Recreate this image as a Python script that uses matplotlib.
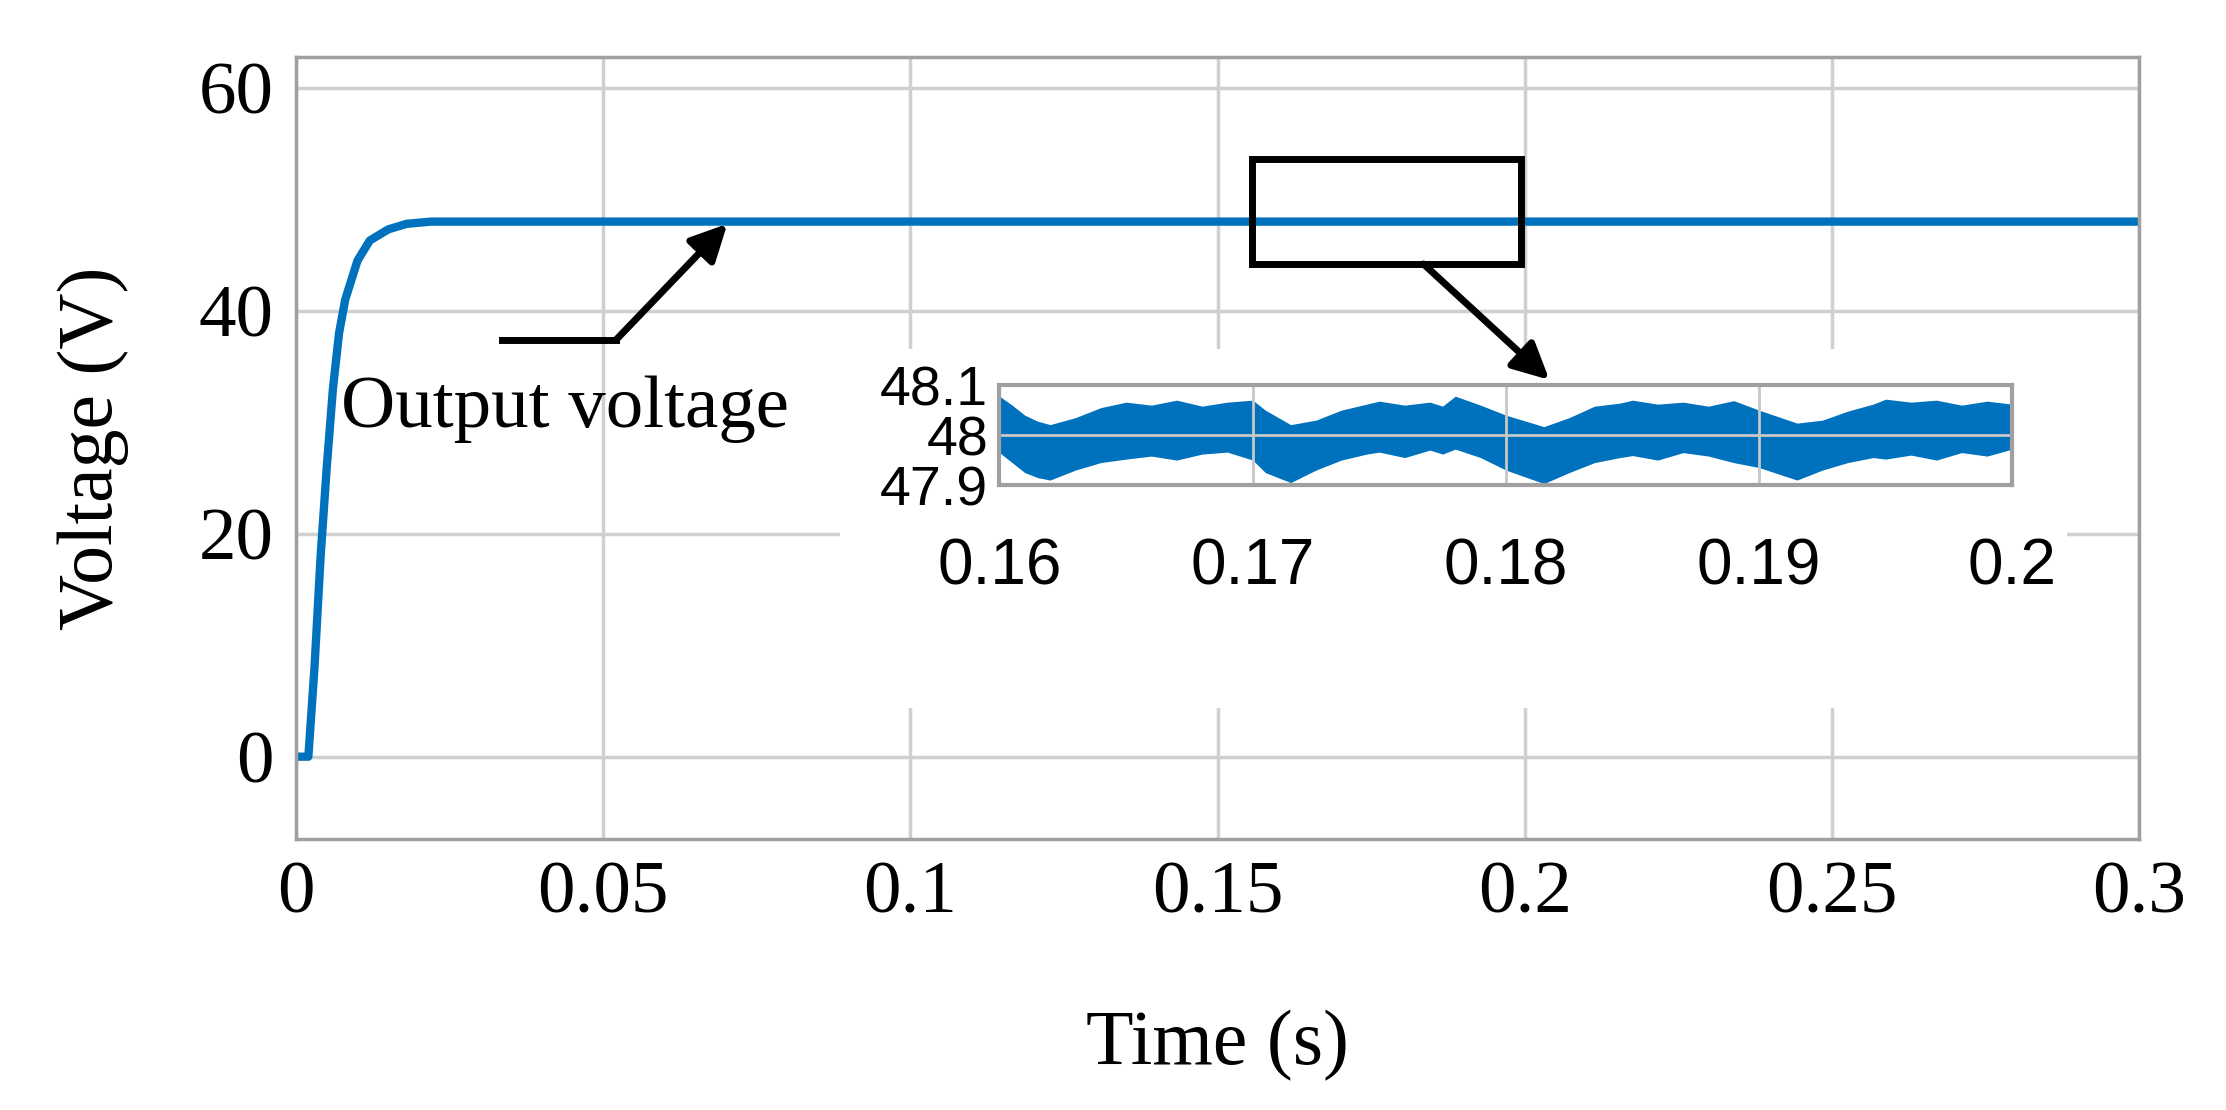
import matplotlib
matplotlib.use('Agg')
import matplotlib.pyplot as plt
from matplotlib.patches import Rectangle

# main curve
t_main = [0.0, 0.002, 0.003, 0.004, 0.005, 0.006, 0.007, 0.008, 0.010, 0.012,
          0.015, 0.018, 0.022, 0.026, 0.03, 0.3]
v_main = [0, 0, 8, 18, 26, 33, 38, 41, 44.5, 46.3, 47.3, 47.8, 48, 48, 48, 48]

# inset ripple envelope (0.16 - 0.2 s), read approximately
t_in = [0.16, 0.1605, 0.161, 0.1615, 0.162, 0.163, 0.164, 0.165, 0.166, 0.167,
        0.168, 0.169, 0.170, 0.1705, 0.1715, 0.1725, 0.1735, 0.1745, 0.175,
        0.176, 0.177, 0.1775, 0.178, 0.179, 0.180, 0.1815, 0.1825, 0.1835,
        0.1845, 0.185, 0.186, 0.187, 0.188, 0.189, 0.190, 0.1915, 0.1925,
        0.1935, 0.1945, 0.195, 0.196, 0.197, 0.198, 0.199, 0.2]
v_up = [48.078, 48.060, 48.040, 48.028, 48.021, 48.035, 48.055, 48.066, 48.060,
        48.070, 48.058, 48.066, 48.070, 48.050, 48.021, 48.030, 48.050, 48.062,
        48.068, 48.060, 48.066, 48.058, 48.078, 48.060, 48.040, 48.017, 48.035,
        48.058, 48.064, 48.070, 48.062, 48.066, 48.058, 48.069, 48.050, 48.024,
        48.030, 48.048, 48.062, 48.072, 48.066, 48.070, 48.060, 48.068, 48.062]
v_lo = [47.965, 47.945, 47.925, 47.915, 47.910, 47.930, 47.945, 47.952, 47.958,
        47.950, 47.962, 47.966, 47.950, 47.925, 47.905, 47.930, 47.950, 47.962,
        47.966, 47.955, 47.970, 47.962, 47.972, 47.955, 47.930, 47.903, 47.925,
        47.945, 47.955, 47.959, 47.950, 47.965, 47.958, 47.945, 47.935, 47.910,
        47.930, 47.945, 47.955, 47.952, 47.960, 47.950, 47.965, 47.958, 47.972]

blue = '#0072BD'
plt.rcParams['font.family'] = ['Liberation Serif', 'DejaVu Serif']

fig = plt.figure(figsize=(22.26, 11.10), dpi=100)
ax = fig.add_axes([0.133, 0.244, 0.828, 0.705])
ax.plot(t_main, v_main, color=blue, lw=6)
ax.set_xlim(0, 0.3)
ax.set_ylim(-7.4, 62.8)
ax.set_xticks([0, 0.05, 0.1, 0.15, 0.2, 0.25, 0.3])
ax.set_xticklabels(['0', '0.05', '0.1', '0.15', '0.2', '0.25', '0.3'])
ax.set_yticks([0, 20, 40, 60])
ax.tick_params(labelsize=54, length=0, pad=16)
ax.grid(True, color='#d0d0d0', lw=2.5)
for s in ax.spines.values():
    s.set_color('#a0a0a0')
    s.set_linewidth(2.5)
ax.set_xlabel('Time (s)', fontsize=56, labelpad=58)
ax.set_ylabel('Voltage (V)', fontsize=56, labelpad=50)

# white backdrop behind inset (axes coords)
ax.add_patch(Rectangle((0.295, 0.168), 0.666, 0.458, transform=ax.transAxes,
                       facecolor='white', edgecolor='none', zorder=4))

# zoom box
ax.add_patch(Rectangle((0.1556, 44.2), 0.0437, 9.4, fill=False, lw=5, color='black', zorder=5))
ax.annotate('', xy=(0.204, 33.8), xytext=(0.1835, 44.2),
            arrowprops=dict(arrowstyle='-|>', lw=5, color='black', mutation_scale=55,
                            shrinkA=0, shrinkB=0), zorder=6)

# output voltage annotation
ax.plot([0.0335, 0.0521], [37.4, 37.4], color='black', lw=5, zorder=6)
ax.annotate('', xy=(0.0702, 47.8), xytext=(0.0521, 37.4),
            arrowprops=dict(arrowstyle='-|>', lw=5, color='black', mutation_scale=55,
                            shrinkA=0, shrinkB=0), zorder=6)
ax.text(0.0437, 31.2, 'Output voltage', fontsize=54, ha='center', va='center', zorder=6)

ins = fig.add_axes([0.449, 0.563, 0.455, 0.090], zorder=4)
ins.fill_between(t_in, v_lo, v_up, color=blue, lw=0)
ins.set_xlim(0.16, 0.2)
ins.set_ylim(47.9, 48.1)
ins.set_xticks([0.16, 0.17, 0.18, 0.19, 0.2])
ins.set_xticklabels(['0.16', '0.17', '0.18', '0.19', '0.2'])
ins.set_yticks([47.9, 48, 48.1])
ins.set_yticklabels(['47.9', '48', '48.1'])
ins.grid(True, color='#c8c8c8', lw=2)
ins.tick_params(axis='x', length=0, pad=38)
ins.tick_params(axis='y', length=0, pad=8)
for lab in ins.get_xticklabels():
    lab.set_family(['Liberation Sans Narrow', 'Liberation Sans'])
    lab.set_fontsize(46)
for lab in ins.get_yticklabels():
    lab.set_family(['Liberation Sans Narrow', 'Liberation Sans'])
    lab.set_fontsize(40)
for s in ins.spines.values():
    s.set_color('#a0a0a0')
    s.set_linewidth(3)

fig.savefig('out.png', dpi=100)
